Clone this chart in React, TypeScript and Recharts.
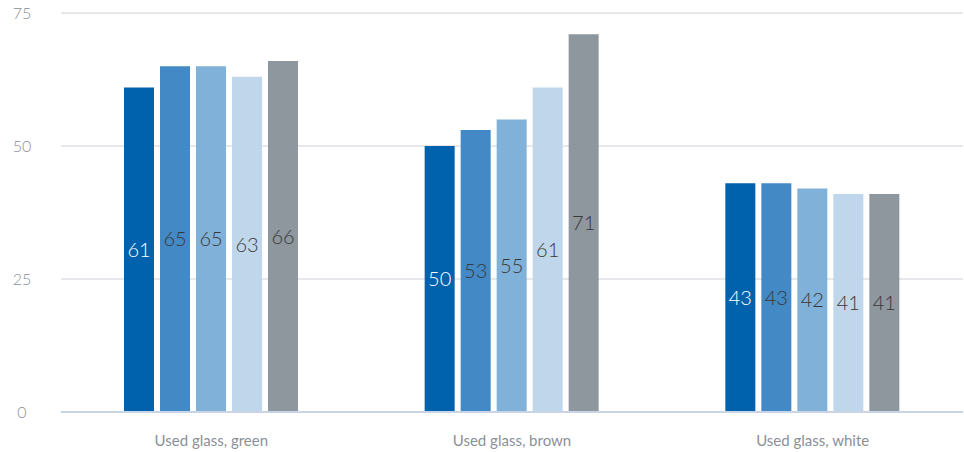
import { BarChart, Bar, XAxis, YAxis, CartesianGrid, ReferenceLine, LabelList } from 'recharts';

const categories = ['Used glass, green', 'Used glass, brown', 'Used glass, white'];
const seriesA = [61, 50, 43];
const seriesB = [65, 53, 43];
const seriesC = [65, 55, 42];
const seriesD = [63, 61, 41];
const seriesE = [66, 71, 41];
const yTicks = [0, 25, 50, 75];

const SERIES = [
  { key: 's1', values: seriesA, color: '#0061ad', labelColor: '#ffffff' },
  { key: 's2', values: seriesB, color: '#4289c5', labelColor: '#383838' },
  { key: 's3', values: seriesC, color: '#80b1d8', labelColor: '#383838' },
  { key: 's4', values: seriesD, color: '#c0d7eb', labelColor: '#383838' },
  { key: 's5', values: seriesE, color: '#8e969e', labelColor: '#383838' },
];

const data = categories.map((name, i) => {
  const row: Record<string, string | number> = { name };
  SERIES.forEach(s => { row[s.key] = s.values[i]; });
  return row;
});

const FONT = 'Lato, "Open Sans", sans-serif';

function YTick({ y, payload }: any) {
  return (
    <text x={22} y={y} dy={6} textAnchor="middle" fill="#8a9099" fontSize={16} fontFamily={FONT} fontWeight={300}>
      {payload.value}
    </text>
  );
}

export default function App() {
  return (
    <div style={{ position: 'absolute', left: 0, top: 0, background: '#fff' }}>
      <BarChart
        width={964}
        height={452}
        data={data}
        margin={{ top: 13, right: 1, bottom: 0, left: 0 }}
        barSize={30}
        barGap={6}
      >
        <CartesianGrid vertical={false} stroke="#e6e8eb" strokeWidth={2} />
        <XAxis
          dataKey="name"
          axisLine={false}
          tickLine={false}
          height={40}
          tick={{ fill: '#8a9099', fontSize: 15, fontFamily: FONT, fontWeight: 400, dy: 15 }}
        />
        <YAxis
          domain={[0, 75]}
          ticks={yTicks}
          axisLine={false}
          tickLine={false}
          width={61}
          tick={<YTick />}
        />
        {SERIES.map(s => (
          <Bar key={s.key} dataKey={s.key} fill={s.color} isAnimationActive={false}>
            <LabelList
              dataKey={s.key}
              position="center"
              fill={s.labelColor}
              fontSize={20}
              fontFamily={FONT}
              fontWeight={300}
            />
          </Bar>
        ))}
        <ReferenceLine y={0} stroke="#c9d5e6" strokeWidth={2} />
      </BarChart>
    </div>
  );
}
